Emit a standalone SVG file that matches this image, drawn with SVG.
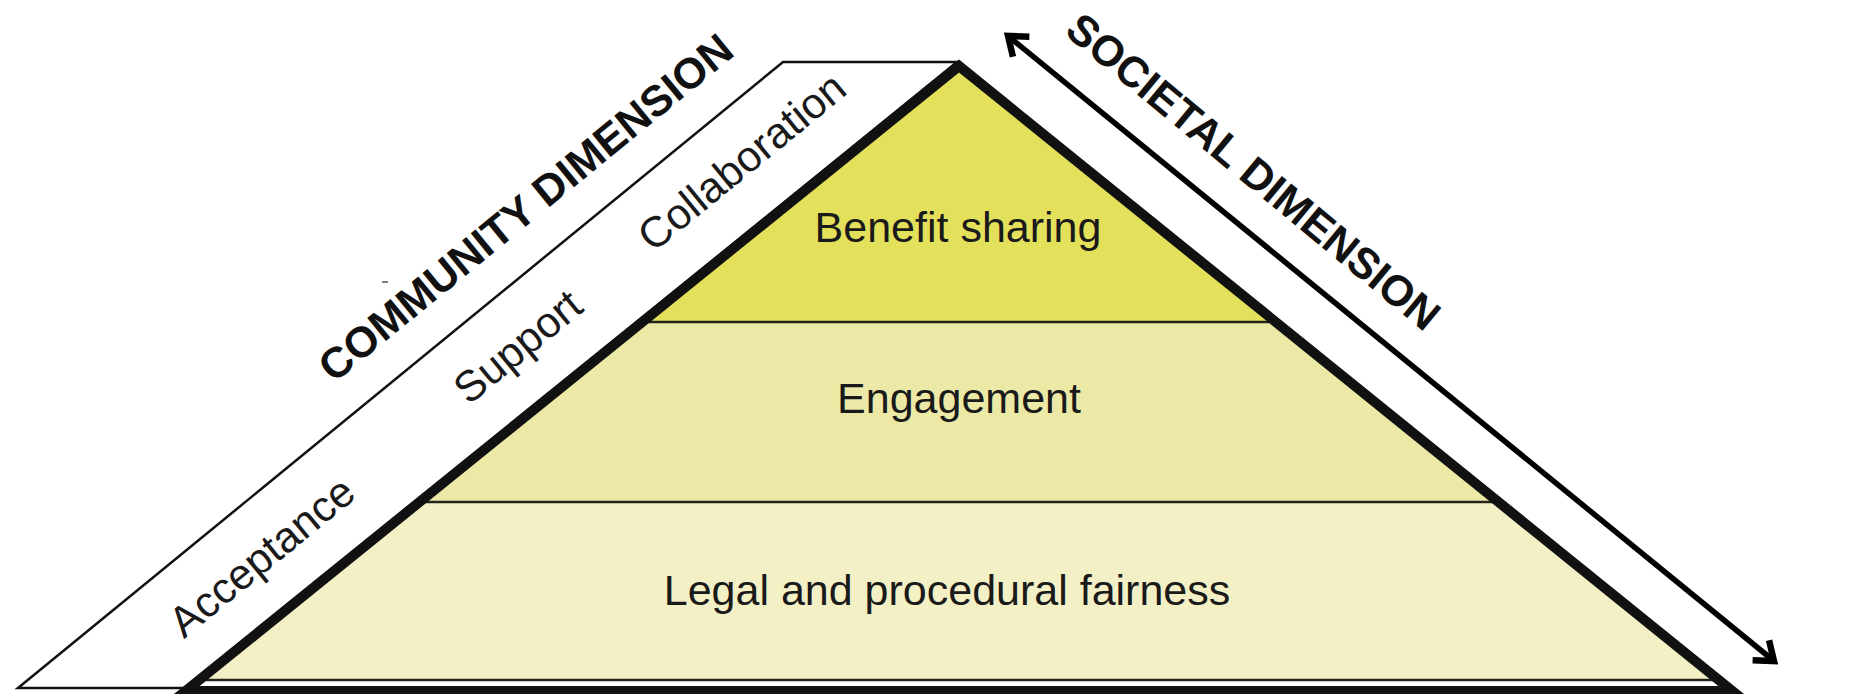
<svg xmlns="http://www.w3.org/2000/svg" width="1857" height="694" viewBox="0 0 1857 694">
<defs>
<style>
.lbl{font-family:"Liberation Sans",Arial,sans-serif;font-size:43px;fill:#1a1a1a;}
.dim{font-family:"Liberation Sans",Arial,sans-serif;font-size:43px;font-weight:bold;fill:#111;}
.sep{stroke:#26241a;stroke-width:2.5;fill:none;}
.band{fill:#fff;stroke:#111;stroke-width:2.5;stroke-linejoin:miter;}
</style>
<marker id="chev" markerUnits="userSpaceOnUse" viewBox="-24 -18 30 36" refX="0" refY="0" markerWidth="30" markerHeight="36" orient="auto-start-reverse">
<path d="M-17,-13 L0,0 L-17,13" fill="none" stroke="#000" stroke-width="6.5" stroke-linejoin="miter"/>
</marker>
</defs>
<rect width="1857" height="694" fill="#fff"/>
<g id="community-band">
<polygon class="band" points="18,688 783,62 957,62 186,688"/>
</g>
<g id="layer-legal">
<polygon points="419.5,502 1498.5,502 1718.8,680 199.2,680" fill="#f3f0c6"/>
<text class="lbl" x="947" y="605" text-anchor="middle">Legal and procedural fairness</text>
</g>
<g id="layer-engagement">
<polygon points="642.2,322 1275.8,322 1498.5,502 419.5,502" fill="#ece9a6"/>
<text class="lbl" x="959" y="413" text-anchor="middle">Engagement</text>
</g>
<g id="layer-benefit">
<polygon points="959,66 1275.8,322 642.2,322" fill="#e3e05b"/>
<text class="lbl" x="958" y="242" text-anchor="middle">Benefit sharing</text>
</g>
<g id="separators">
<line class="sep" x1="640" y1="322" x2="1278" y2="322"/>
<line class="sep" x1="417" y1="502" x2="1501" y2="502"/>
<line class="sep" x1="197" y1="680" x2="1721" y2="680"/>
</g>
<g id="pyramid-outline">
<polygon points="959,66 1732.4,691 185.6,691" fill="none" stroke="#111" stroke-width="10" stroke-linejoin="miter"/>
</g>
<g id="community-items">
<text class="lbl" text-anchor="middle" transform="translate(271,568) rotate(-39.3)">Acceptance</text>
<text class="lbl" text-anchor="middle" transform="translate(527,358) rotate(-39.3)">Support</text>
<text class="lbl" text-anchor="middle" transform="translate(751,173) rotate(-39.3)">Collaboration</text>
</g>
<g id="community-dimension">
<text class="dim" text-anchor="middle" transform="translate(535,219) rotate(-39.3)">COMMUNITY DIMENSION</text>
</g>
<g id="societal-dimension">
<text class="dim" text-anchor="middle" transform="translate(1244,183) rotate(39.6)">SOCIETAL DIMENSION</text>
</g>
<g id="connectors">
<line x1="1008" y1="36" x2="1774" y2="661" stroke="#000" stroke-width="5.5" marker-start="url(#chev)" marker-end="url(#chev)"/>
</g>
<line x1="382" y1="282" x2="388" y2="282" stroke="#555" stroke-width="1.5"/>
</svg>
